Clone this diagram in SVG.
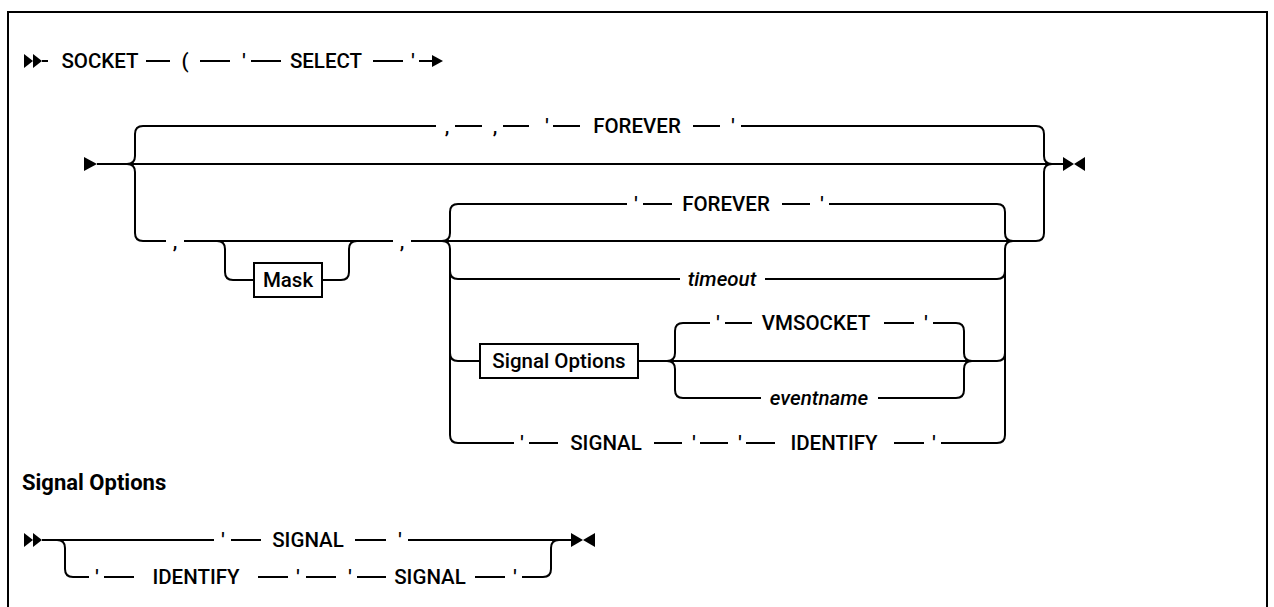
<svg xmlns="http://www.w3.org/2000/svg" width="1274" height="607" viewBox="0 0 1274 607">
<style>
.l{fill:none;stroke:#000;stroke-width:2}
.t{font-family:Roboto,"Liberation Sans",sans-serif;font-size:20.5px;font-weight:500;fill:#000;text-anchor:middle}
.i{font-style:italic}
.h{font-family:Roboto,"Liberation Sans",sans-serif;font-size:22px;font-weight:bold;fill:#000}
.b{fill:#fff;stroke:#000;stroke-width:2}
.m{fill:#000}
</style>
<rect x="8" y="12" width="1259" height="640" fill="#fff" stroke="#000" stroke-width="2"/>
<g id="connectors">
<!-- row 1 -->
<polygon class="m" points="24,54 33,61 24,68"/><polygon class="m" points="33,54 42,61 33,68"/>
<path class="l" d="M42,61H48M146,61H170M200,61H230M251,61H281M373,61H403M419,61H434"/>
<polygon class="m" points="432,55 443,61 432,67"/>
<!-- main rail -->
<polygon class="m" points="84,157 97,164 84,171"/>
<path class="l" d="M97,164H1063"/>
<polygon class="m" points="1063,157 1074,164 1063,171"/><polygon class="m" points="1085,157 1074,164 1085,171"/>
<!-- top branch -->
<path class="l" d="M127,164Q135,164 135,156V134Q135,126 143,126H436M455,126H482M503,126H529M553,126H580M693,126H720M741,126H1036Q1044,126 1044,134V156Q1044,164 1052,164"/>
<!-- bottom branch -->
<path class="l" d="M127,164Q135,164 135,172V233Q135,241 143,241H166M184,241H393M411,241H1036Q1044,241 1044,233V172Q1044,164 1052,164"/>
<!-- mask loop -->
<path class="l" d="M217,241Q225,241 225,249V272Q225,280 233,280H254M322,280H341Q349,280 349,272V249Q349,241 357,241"/>
<!-- inner choice -->
<path class="l" d="M442,241Q450,241 450,233V212Q450,204 458,204H627M643,204H672M782,204H810M829,204H997Q1005,204 1005,212V233Q1005,241 1013,241"/>
<path class="l" d="M442,241Q450,241 450,249V435Q450,443 458,443H514M529,443H558M654,443H682M700,443H728M746,443H775M894,443H924M941,443H997Q1005,443 1005,435V249Q1005,241 1013,241"/>
<path class="l" d="M450,271Q450,279 458,279H680M765,279H997Q1005,279 1005,271"/>
<path class="l" d="M450,353Q450,361 458,361H480M638,361H997Q1005,361 1005,353"/>
<!-- signal sub choice -->
<path class="l" d="M667,361Q675,361 675,353V331Q675,323 683,323H710M725,323H752M884,323H914M933,323H956Q964,323 964,331V353Q964,361 972,361"/>
<path class="l" d="M667,361Q675,361 675,369V390Q675,398 683,398H761M878,398H956Q964,398 964,390V369Q964,361 972,361"/>
<!-- signal options fragment -->
<polygon class="m" points="24,533 33,540 24,547"/><polygon class="m" points="33,533 42,540 33,547"/>
<path class="l" d="M42,540H214M231,540H261M355,540H386M408,540H571"/>
<polygon class="m" points="571,533 583,540 571,547"/><polygon class="m" points="595,533 583,540 595,547"/>
<path class="l" d="M57,540Q65,540 65,548V569Q65,577 73,577H89M104,577H134M258,577H288M306,577H336M357,577H386M475,577H505M522,577H543Q551,577 551,569V548Q551,540 559,540"/>
</g>
<g id="row1">
<text class="t" x="100" y="68">SOCKET</text>
<text class="t" x="185" y="68">(</text>
<text class="t" x="244" y="68">'</text>
<text class="t" x="326" y="68">SELECT</text>
<text class="t" x="413" y="68">'</text>
</g>
<g id="forever-top">
<text class="t" x="447" y="133">,</text>
<text class="t" x="495" y="133">,</text>
<text class="t" x="547" y="133">'</text>
<text class="t" x="637" y="133">FOREVER</text>
<text class="t" x="733" y="133">'</text>
</g>
<g id="commas">
<text class="t" x="175" y="248">,</text>
<text class="t" x="402" y="248">,</text>
</g>
<g id="mask">
<rect class="b" x="254" y="263" width="68" height="34"/>
<text class="t" x="288" y="287">Mask</text>
</g>
<g id="forever">
<text class="t" x="636" y="211">'</text>
<text class="t" x="726" y="211">FOREVER</text>
<text class="t" x="822" y="211">'</text>
</g>
<g id="timeout">
<text class="t i" x="722" y="286">timeout</text>
</g>
<g id="signal-options-ref">
<rect class="b" x="480" y="344" width="158" height="34"/>
<text class="t" x="559" y="368">Signal Options</text>
</g>
<g id="vmsocket">
<text class="t" x="718" y="330">'</text>
<text class="t" x="816" y="330">VMSOCKET</text>
<text class="t" x="926" y="330">'</text>
</g>
<g id="eventname">
<text class="t i" x="819" y="405">eventname</text>
</g>
<g id="signal-identify">
<text class="t" x="522" y="450">'</text>
<text class="t" x="606" y="450">SIGNAL</text>
<text class="t" x="694" y="450">'</text>
<text class="t" x="740" y="450">'</text>
<text class="t" x="834" y="450">IDENTIFY</text>
<text class="t" x="934" y="450">'</text>
</g>
<g id="heading">
<text class="h" x="22" y="490">Signal Options</text>
</g>
<g id="so-signal">
<text class="t" x="223" y="547">'</text>
<text class="t" x="308" y="547">SIGNAL</text>
<text class="t" x="400" y="547">'</text>
</g>
<g id="so-identify-signal">
<text class="t" x="97" y="584">'</text>
<text class="t" x="196" y="584">IDENTIFY</text>
<text class="t" x="298" y="584">'</text>
<text class="t" x="350" y="584">'</text>
<text class="t" x="430" y="584">SIGNAL</text>
<text class="t" x="515" y="584">'</text>
</g>
</svg>
